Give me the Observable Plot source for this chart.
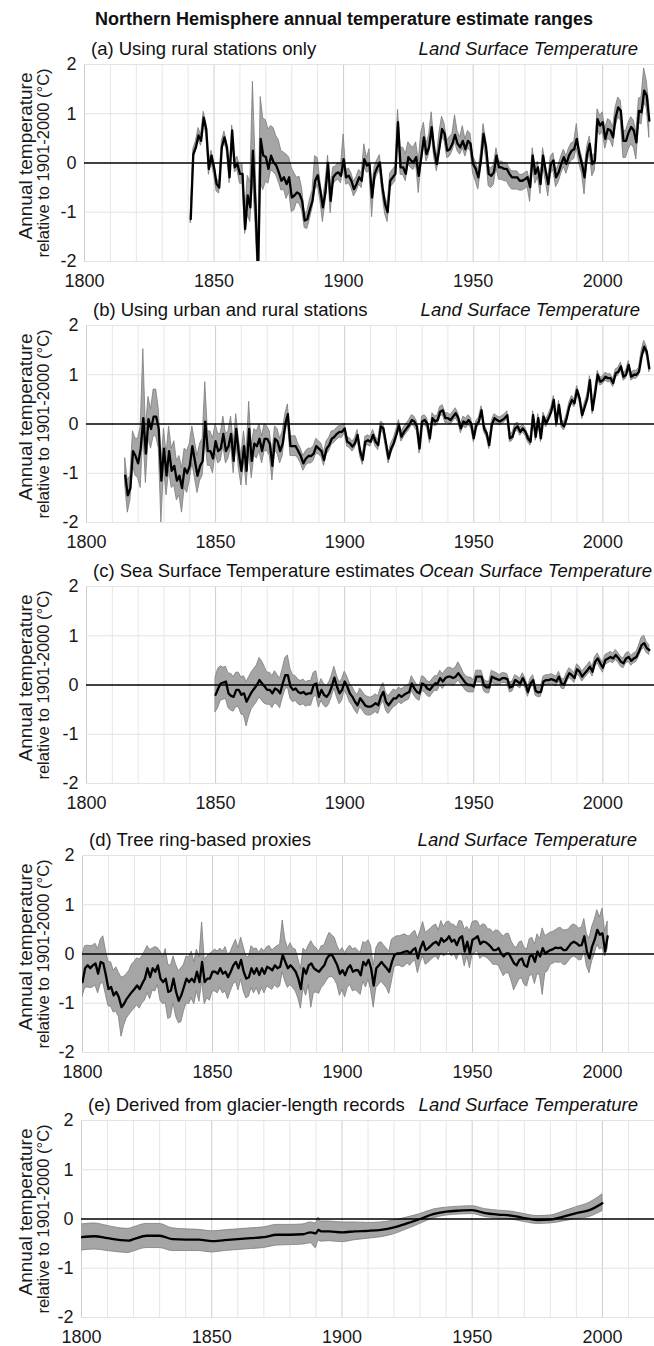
<!DOCTYPE html>
<html><head><meta charset="utf-8">
<script src="https://cdn.jsdelivr.net/npm/d3@7"></script>
<script src="https://cdn.jsdelivr.net/npm/@observablehq/plot@0.6"></script>
<style>
html,body{margin:0;padding:0;background:#fff;}
#page{position:relative;width:654px;height:1346px;overflow:hidden;font-family:"Liberation Sans",Arial,sans-serif;color:#111;}
.t{position:absolute;white-space:nowrap;line-height:1;}
.main{font-weight:bold;font-size:18px;}
.pl{font-size:18.5px;}
.pr{font-size:18.5px;font-style:italic;}
.panel{position:absolute;left:0;}
</style></head><body><div id="page"></div>
<script>
// ---- axis tick values ----
const xTicks = [1800, 1850, 1900, 1950, 2000];
const xMinor = [1810,1820,1830,1840,1860,1870,1880,1890,1910,1920,1930,1940,1960,1970,1980,1990,2010,2020];
const yTicks = [-2, -1, 0, 1, 2];
const yGrid = [-2, -1, 1, 2];
const yLab1 = "Annual temperature";
const yLab2 = "relative to 1901-2000 (°C)";
const mainTitle = "Northern Hemisphere annual temperature estimate ranges";

// ---- (a) rural stations, 1841-2018 ----
const aStart = 1841;
const aMid = [
-1.14,0.18,0.32,0.56,0.45,0.92,0.69,-0.12,0.15,
-0.09,-0.43,-0.50,0.32,0.52,0.32,-0.29,0.66,-0.09,-0.02,
-0.22,-0.22,-1.34,-0.66,-0.90,0.25,-0.85,-2.30,0.49,0.15,
0.12,-0.12,0.15,0.01,-0.05,-0.19,-0.36,-0.29,-0.43,-0.29,
-0.70,-0.66,-0.60,-0.63,-0.77,-1.17,-1.14,-0.94,-0.77,-0.36,
-0.25,-0.55,-0.90,-0.60,0.00,-0.77,-0.29,-0.22,-0.19,-0.26,
0.08,-0.29,-0.26,-0.36,-0.53,-0.43,-0.29,-0.36,0.08,-0.05,
-0.02,-0.70,-0.22,-0.09,0.01,-0.49,-0.83,-1.00,-0.36,-0.29,
-0.22,0.83,-0.09,-0.09,-0.22,0.12,0.05,0.01,0.12,-0.26,
0.12,0.52,0.18,0.32,0.73,0.25,-0.02,0.32,0.69,0.59,
0.25,0.28,0.39,0.57,0.39,0.32,0.45,0.28,0.45,0.39,
-0.02,-0.12,-0.29,0.05,0.59,0.32,-0.22,-0.26,-0.19,0.15,
-0.09,-0.09,-0.12,-0.12,-0.22,-0.29,-0.29,-0.29,-0.36,-0.36,
-0.33,-0.29,-0.49,0.15,-0.22,-0.09,-0.43,0.15,-0.16,-0.43,
-0.02,0.05,-0.29,-0.19,-0.02,0.12,-0.02,0.15,0.25,0.28,
0.49,0.18,-0.02,-0.29,0.18,0.39,-0.02,0.05,0.89,0.76,
0.83,0.49,0.69,0.66,0.52,0.93,1.13,1.06,0.45,0.45,
0.62,0.73,0.66,0.42,1.06,1.03,1.47,1.37,0.86];
const aUp = [
.08,.10,.12,.15,.12,.12,.12,.10,.10,
.12,.12,.10,.12,.12,.10,.12,.10,.12,.15,
.15,.20,.30,.40,.50,1.40,.90,.50,.85,.75,
.75,.80,.60,.70,.60,.65,.60,.50,.60,.40,
.60,.45,.30,.35,.25,.15,.15,.20,.20,.50,
.35,.20,.15,.20,.15,.20,.20,.15,.20,.20,
.50,.15,.15,.15,.15,.15,.15,.15,.30,.15,
.30,.15,.15,.15,.15,.15,.15,.15,.15,.15,
.15,.25,.40,.40,.40,.30,.30,.30,.30,.30,
.50,.30,.20,.25,.30,.20,.15,.30,.25,.20,
.20,.25,.20,.40,.25,.20,.30,.20,.20,.20,
.15,.15,.15,.15,.20,.15,.15,.15,.15,.15,
.12,.12,.12,.12,.12,.12,.12,.12,.12,.12,
.12,.12,.12,.15,.12,.12,.12,.15,.12,.12,
.15,.15,.12,.15,.15,.15,.15,.15,.15,.15,
.30,.15,.15,.15,.15,.15,.15,.15,.20,.20,
.20,.20,.20,.20,.20,.20,.20,.20,.20,.20,
.20,.20,.20,.20,.25,.30,.45,.30,.30];
const aDn = [
.08,.10,.08,.10,.10,.10,.12,.12,.15,
.15,.15,.12,.10,.10,.10,.12,.10,.10,.12,
.20,.20,.10,.40,.30,.60,.40,.10,.90,.70,
.50,.30,.30,.20,.20,.20,.20,.25,.30,.30,
.30,.30,.20,.20,.20,.15,.20,.20,.15,.20,
.20,.20,.30,.20,.20,.25,.15,.15,.15,.15,
.15,.15,.15,.15,.15,.15,.15,.15,.15,.15,
.15,.40,.15,.15,.15,.15,.20,.20,.15,.15,
.15,.15,.15,.15,.15,.15,.15,.15,.15,.35,
.15,.15,.15,.15,.15,.15,.15,.15,.15,.15,
.15,.15,.15,.15,.15,.15,.15,.15,.15,.15,
.20,.25,.25,.20,.20,.20,.25,.25,.25,.25,
.25,.25,.25,.25,.25,.25,.25,.25,.20,.20,
.20,.20,.30,.20,.20,.20,.20,.20,.20,.25,
.20,.20,.20,.20,.20,.20,.20,.20,.20,.20,
.20,.20,.20,.35,.20,.20,.25,.20,.20,.20,
.20,.20,.20,.20,.20,.20,.20,.20,.35,.35,
.35,.35,.35,.35,.25,.25,.25,.25,.35];

// ---- (b) urban and rural stations, 1815-2018 ----
const bStart = 1815;
const bMid = [
-1.05,-1.45,-1.30,-0.55,-0.65,
-0.80,-0.50,0.12,-0.60,0.10,-0.10,0.15,0.15,-0.10,-1.15,
-0.50,-1.05,-0.55,-0.95,-0.85,-1.15,-1.05,-1.30,-0.90,-1.00,
-0.85,-0.45,-0.75,-1.05,-0.85,-0.75,0.05,-0.55,-0.55,-0.70,
-0.35,-0.55,-0.50,-0.20,-0.55,-0.45,-0.20,-0.75,-0.10,-0.60,
-0.95,-0.45,-0.95,-0.10,-0.75,-0.40,-0.45,-0.30,-0.55,-0.30,
-0.30,-0.40,-0.85,-0.30,-0.35,-0.55,-0.40,0.00,0.20,-0.45,
-0.45,-0.45,-0.55,-0.65,-0.80,-0.70,-0.65,-0.65,-0.60,-0.45,
-0.50,-0.55,-0.73,-0.50,-0.43,-0.30,-0.26,-0.20,-0.16,-0.16,
-0.09,-0.36,-0.39,-0.46,-0.39,-0.22,-0.56,-0.73,-0.36,-0.33,
-0.36,-0.22,-0.36,-0.43,-0.05,-0.09,-0.39,-0.70,-0.50,-0.39,
-0.22,-0.02,-0.26,-0.16,-0.09,-0.02,0.08,0.05,-0.05,-0.50,
0.05,0.08,0.01,-0.29,0.12,0.05,0.08,0.25,0.28,0.12,
0.12,0.08,0.15,0.22,0.12,-0.09,0.05,0.01,0.08,0.01,
-0.29,-0.02,0.05,0.28,-0.09,-0.19,-0.43,-0.02,0.12,0.08,
0.05,0.08,0.12,0.18,-0.29,-0.26,-0.09,-0.05,-0.16,-0.09,
-0.16,-0.29,-0.36,0.18,-0.26,0.12,-0.29,0.15,0.01,0.12,
0.25,0.49,0.01,0.39,0.01,-0.05,0.12,0.35,0.49,0.42,
0.69,0.52,0.18,0.35,0.52,0.89,0.28,0.62,1.00,0.86,
0.89,0.96,0.93,0.93,0.83,1.03,1.06,1.17,0.96,1.00,
1.20,0.96,1.00,1.00,1.06,1.37,1.57,1.47,1.13];
const bUp = [
.35,.30,.25,.40,.35,
.50,.45,1.40,.50,.45,.40,.55,.55,.40,.30,
.40,.45,.50,.45,.50,.40,.40,.40,.40,.45,
.45,.40,.40,.40,.45,.45,.80,.40,.40,.40,
.35,.35,.30,.35,.35,.30,.35,.35,.30,.30,
.30,.30,.35,.55,.30,.30,.30,.30,.30,.30,
.25,.25,.25,.25,.25,.25,.25,.20,.20,.20,
.20,.20,.15,.15,.15,.15,.15,.15,.15,.15,
.15,.15,.15,.15,.15,.15,.12,.12,.12,.12,
.10,.10,.10,.10,.10,.10,.10,.10,.10,.10,
.10,.10,.10,.10,.10,.10,.10,.10,.10,.10,
.10,.10,.10,.10,.10,.10,.10,.10,.10,.10,
.10,.10,.10,.10,.10,.10,.10,.10,.10,.10,
.10,.10,.10,.10,.10,.10,.10,.10,.10,.10,
.08,.08,.08,.08,.08,.08,.08,.08,.08,.08,
.08,.08,.08,.08,.08,.08,.08,.08,.08,.08,
.08,.08,.08,.08,.08,.08,.08,.08,.08,.08,
.08,.08,.08,.08,.08,.08,.08,.08,.08,.08,
.08,.08,.08,.08,.08,.08,.08,.08,.08,.08,
.08,.08,.08,.08,.08,.08,.08,.08,.08,.08,
.08,.08,.08,.08,.08,.12,.12,.10,.10];
const bDn = [
.20,.35,.25,.30,.40,
.30,.80,.30,.60,.40,.40,.40,.40,.40,.85,
.40,.40,.40,.35,.40,.40,.40,.50,.40,.40,
.30,.35,.35,.35,.30,.30,.35,.30,.30,.30,
.25,.25,.25,.25,.25,.25,.25,.25,.25,.30,
.30,.30,.30,.45,.35,.25,.25,.25,.25,.25,
.25,.25,.30,.25,.25,.25,.25,.20,.15,.20,
.20,.20,.15,.15,.15,.15,.15,.15,.15,.15,
.12,.12,.12,.12,.12,.12,.12,.12,.12,.12,
.10,.10,.10,.10,.10,.10,.10,.10,.10,.10,
.10,.10,.10,.10,.10,.10,.10,.10,.10,.10,
.10,.10,.10,.10,.10,.10,.10,.10,.10,.10,
.10,.10,.10,.10,.10,.10,.10,.10,.10,.10,
.10,.10,.10,.10,.10,.10,.10,.10,.10,.10,
.08,.08,.08,.08,.08,.08,.08,.08,.08,.08,
.08,.08,.08,.08,.08,.08,.08,.08,.08,.08,
.08,.08,.08,.08,.08,.08,.08,.08,.08,.08,
.08,.08,.08,.08,.08,.08,.08,.08,.08,.08,
.08,.08,.08,.08,.08,.08,.08,.08,.08,.08,
.08,.08,.08,.08,.08,.08,.08,.08,.08,.08,
.08,.08,.08,.08,.08,.08,.08,.08,.08];

// ---- (c) sea surface temperature, 1850-2018 ----
const cStart = 1850;
const cMid = [
-0.20,-0.07,0.03,0.05,0.07,-0.17,-0.22,-0.24,-0.10,-0.10,
-0.20,-0.17,-0.34,-0.24,-0.14,-0.07,0.00,0.10,0.03,-0.03,
-0.10,-0.10,-0.17,-0.07,-0.10,-0.17,0.03,0.20,0.20,-0.03,
-0.10,-0.07,-0.14,-0.17,-0.14,-0.19,-0.17,-0.17,0.00,0.03,
-0.24,-0.10,-0.20,-0.24,-0.17,-0.03,0.15,-0.03,-0.17,-0.10,
0.07,-0.03,-0.17,-0.24,-0.34,-0.41,-0.27,-0.34,-0.42,-0.44,
-0.44,-0.41,-0.37,-0.41,-0.24,-0.14,-0.34,-0.41,-0.34,-0.27,
-0.27,-0.20,-0.24,-0.20,-0.17,-0.14,0.03,-0.07,-0.14,-0.17,
0.03,0.00,-0.07,-0.10,-0.03,0.03,0.03,0.14,0.07,0.14,
0.17,0.17,0.14,0.17,0.24,0.17,0.10,0.03,0.00,0.00,
-0.03,0.17,0.17,0.17,-0.01,-0.05,-0.05,0.17,0.14,0.12,
0.10,0.14,0.14,0.12,-0.05,-0.03,0.10,0.07,0.03,0.14,
0.03,-0.14,0.03,0.10,-0.12,-0.15,-0.14,0.07,0.10,0.10,
0.12,0.10,0.07,0.17,0.03,0.01,0.14,0.24,0.20,0.14,
0.32,0.27,0.17,0.24,0.30,0.37,0.27,0.47,0.54,0.44,
0.35,0.51,0.54,0.57,0.54,0.61,0.55,0.47,0.44,0.54,
0.57,0.49,0.54,0.57,0.68,0.81,0.85,0.75,0.71];
const cUp = [
.35,.40,.35,.30,.30,.40,.45,.40,.35,.35,
.35,.35,.40,.40,.40,.40,.40,.45,.45,.40,
.35,.35,.35,.35,.30,.30,.30,.35,.40,.35,
.30,.25,.25,.25,.25,.25,.25,.25,.25,.25,
.22,.22,.22,.22,.22,.22,.22,.22,.22,.22,
.20,.20,.20,.20,.20,.20,.20,.20,.20,.20,
.18,.18,.18,.18,.18,.18,.18,.18,.18,.18,
.15,.15,.15,.15,.15,.15,.15,.15,.15,.15,
.15,.15,.15,.15,.15,.15,.15,.15,.15,.15,
.18,.18,.18,.18,.22,.20,.15,.15,.15,.15,
.12,.12,.12,.12,.12,.12,.12,.12,.12,.12,
.10,.10,.10,.10,.10,.10,.10,.10,.10,.10,
.10,.10,.10,.10,.10,.10,.10,.10,.10,.10,
.10,.10,.10,.10,.10,.10,.10,.10,.10,.10,
.10,.10,.10,.10,.10,.10,.10,.10,.10,.10,
.10,.10,.10,.10,.10,.10,.10,.10,.10,.10,
.10,.10,.10,.10,.12,.15,.15,.12,.10];
const cDn = [
.35,.40,.35,.35,.35,.30,.30,.30,.35,.35,
.40,.45,.50,.40,.35,.35,.35,.35,.35,.35,
.30,.30,.30,.30,.30,.30,.30,.30,.25,.25,
.25,.25,.25,.25,.25,.25,.25,.25,.25,.25,
.22,.22,.22,.22,.22,.22,.22,.22,.22,.22,
.18,.18,.18,.18,.18,.18,.18,.18,.18,.18,
.18,.18,.18,.18,.18,.18,.18,.18,.18,.18,
.15,.15,.15,.15,.15,.15,.15,.15,.15,.15,
.15,.15,.15,.15,.15,.15,.15,.15,.15,.15,
.15,.15,.15,.15,.15,.15,.15,.15,.15,.15,
.12,.12,.12,.12,.12,.12,.12,.12,.12,.12,
.10,.10,.10,.10,.10,.10,.10,.10,.10,.10,
.10,.10,.10,.10,.10,.10,.10,.10,.10,.10,
.10,.10,.10,.10,.10,.10,.10,.10,.10,.10,
.10,.10,.10,.10,.10,.10,.10,.10,.10,.10,
.10,.10,.10,.10,.10,.10,.10,.10,.10,.10,
.10,.10,.10,.10,.10,.10,.10,.10,.10];

// ---- (d) tree-ring proxies, 1800-2002 ----
const dStart = 1800;
const dMid = [
-0.57,-0.29,-0.23,-0.29,-0.23,-0.19,-0.40,-0.16,-0.19,-0.43,
-0.71,-0.67,-0.84,-0.77,-0.88,-1.08,-1.01,-0.91,-0.84,-0.77,
-0.71,-0.64,-0.71,-0.60,-0.50,-0.29,-0.47,-0.29,-0.36,-0.23,
-0.50,-0.57,-0.50,-0.77,-0.74,-0.50,-0.77,-0.95,-0.84,-0.67,
-0.50,-0.57,-0.50,-0.57,-0.36,-0.57,-0.16,-0.57,-0.50,-0.50,
-0.36,-0.36,-0.40,-0.29,-0.40,-0.36,-0.47,-0.36,-0.23,-0.16,
-0.29,-0.12,-0.36,-0.50,-0.47,-0.29,-0.40,-0.29,-0.43,-0.29,
-0.40,-0.26,-0.29,-0.33,-0.23,-0.29,-0.26,-0.02,-0.16,-0.29,
-0.23,-0.29,-0.36,-0.50,-0.71,-0.29,-0.40,-0.23,-0.19,-0.29,
-0.33,-0.36,-0.29,-0.23,-0.09,-0.02,-0.02,-0.12,-0.23,-0.40,
-0.33,-0.43,-0.29,-0.23,-0.36,-0.33,-0.33,-0.43,-0.16,-0.23,
-0.12,-0.29,-0.64,-0.29,-0.23,-0.16,-0.23,-0.29,-0.36,-0.16,
-0.02,0.01,0.01,0.03,0.05,0.06,0.01,0.08,0.12,-0.09,
0.12,0.25,0.08,0.12,0.17,0.22,0.25,0.18,0.32,0.25,
0.29,0.36,0.25,0.29,0.18,0.32,0.36,0.05,0.25,0.01,
0.29,0.32,0.36,0.20,0.25,0.24,0.20,0.15,0.08,0.08,
0.12,0.01,-0.05,0.01,0.01,-0.09,-0.19,-0.23,-0.12,-0.09,
-0.23,-0.26,-0.05,-0.02,-0.16,0.05,-0.05,0.12,0.01,0.05,
0.08,0.10,0.13,0.12,0.13,0.08,0.08,0.15,0.22,0.25,
0.22,0.17,0.18,0.36,0.05,-0.09,0.15,0.29,0.49,0.39,
0.42,0.05,0.36];
const dUp = [
.55,.45,.40,.45,.40,.40,.50,.45,.55,.50,
.55,.50,.50,.50,.50,.60,.55,.50,.50,.55,
.55,.55,.60,.55,.55,.45,.55,.40,.50,.35,
.55,.50,.60,.55,.50,.45,.55,.60,.55,.45,
.45,.50,.55,.40,.45,.50,.80,.45,.45,.50,
.40,.45,.45,.40,.45,.50,.45,.40,.40,.45,
.40,.45,.50,.45,.40,.45,.50,.40,.45,.40,
.45,.40,.45,.40,.35,.45,.45,.70,.45,.40,
.45,.40,.45,.40,.40,.40,.45,.40,.45,.45,
.45,.40,.45,.40,.40,.45,.40,.45,.40,.45,
.45,.45,.40,.40,.45,.45,.40,.45,.40,.45,
.40,.45,.40,.40,.45,.40,.40,.40,.40,.45,
.35,.35,.35,.35,.35,.30,.35,.35,.35,.40,
.35,.40,.35,.35,.35,.35,.35,.30,.35,.30,
.35,.30,.35,.30,.35,.35,.30,.45,.30,.45,
.35,.35,.30,.35,.35,.35,.30,.35,.35,.40,
.35,.40,.40,.40,.40,.35,.35,.35,.35,.35,
.35,.35,.35,.35,.35,.35,.35,.40,.35,.35,
.35,.35,.35,.40,.40,.40,.40,.35,.35,.35,
.35,.35,.35,.35,.35,.40,.40,.40,.40,.35,
.50,.40,.30];
const dDn = [
.30,.40,.45,.40,.45,.45,.40,.45,.40,.40,
.35,.40,.35,.40,.40,.60,.45,.40,.40,.40,
.40,.40,.40,.40,.45,.50,.45,.45,.40,.40,
.45,.45,.50,.55,.55,.50,.50,.45,.55,.50,
.50,.45,.40,.45,.40,.40,.40,.45,.40,.45,
.40,.40,.40,.40,.40,.40,.45,.40,.40,.40,
.45,.40,.40,.40,.40,.40,.40,.40,.40,.40,
.40,.40,.40,.40,.40,.40,.40,.35,.40,.40,
.40,.40,.40,.40,.40,.40,.45,.40,.90,.50,
.45,.45,.40,.40,.45,.45,.45,.40,.40,.45,
.40,.45,.40,.40,.40,.40,.45,.40,.40,.45,
.40,.45,.45,.40,.40,.40,.40,.40,.45,.40,
.25,.25,.25,.30,.30,.25,.25,.25,.25,.30,
.30,.30,.30,.30,.30,.30,.30,.30,.30,.30,
.30,.30,.30,.30,.30,.30,.35,.30,.30,.30,
.30,.30,.30,.30,.30,.30,.30,.30,.30,.30,
.35,.35,.40,.40,.40,.45,.55,.40,.40,.40,
.40,.40,.40,.40,.45,.45,.40,.95,.40,.40,
.30,.30,.30,.30,.30,.30,.30,.30,.30,.30,
.30,.30,.30,.30,.30,.30,.30,.30,.30,.30,
.30,.10,.25];

// ---- (e) glacier-length records ----
const eYears = [1800,1805,1810,1815,1818,1820,1825,1830,1835,1840,1845,1850,1855,1860,1865,1870,1875,1880,1885,1888,1890,1891,1892,1895,1900,1905,1910,1915,1920,1925,1930,1935,1940,1945,1950,1955,1960,1965,1970,1975,1980,1985,1990,1995,2000];
const eMid = [-0.37,-0.35,-0.39,-0.43,-0.44,-0.41,-0.34,-0.34,-0.41,-0.42,-0.42,-0.45,-0.43,-0.41,-0.39,-0.37,-0.32,-0.32,-0.31,-0.27,-0.29,-0.22,-0.25,-0.25,-0.27,-0.25,-0.24,-0.22,-0.17,-0.09,0.0,0.10,0.15,0.17,0.18,0.12,0.09,0.07,0.02,-0.02,-0.01,0.05,0.12,0.18,0.32];
const eUp = [.26,.26,.25,.24,.24,.24,.24,.24,.22,.21,.20,.20,.20,.20,.20,.20,.20,.20,.20,.20,.20,.25,.20,.20,.20,.18,.16,.15,.14,.12,.10,.09,.08,.08,.08,.08,.08,.08,.08,.08,.08,.10,.12,.15,.18];
const eDn = [.27,.27,.26,.25,.25,.25,.25,.25,.24,.23,.23,.23,.22,.22,.22,.22,.22,.21,.21,.22,.30,.22,.21,.20,.20,.18,.16,.15,.14,.12,.10,.09,.08,.08,.08,.08,.08,.08,.08,.08,.08,.10,.12,.14,.16];

// ---- build tables ----
function rowsFrom(start, mid, up, dn) {
  return mid.map((v, i) => ({year: start + i, mid: v, lo: v - dn[i], hi: v + up[i]}));
}
const eRows = eYears.map((yr, i) => ({year: yr, mid: eMid[i], lo: eMid[i] - eDn[i], hi: eMid[i] + eUp[i]}));

const panels = [
  {top: 64,   left: 84, rows: rowsFrom(aStart, aMid, aUp, aDn), title: "(a) Using rural stations only", right: "Land Surface Temperature", rEdge: 638, curve: "linear"},
  {top: 325,  left: 86, rows: rowsFrom(bStart, bMid, bUp, bDn), title: "(b) Using urban and rural stations", right: "Land Surface Temperature", rEdge: 640, curve: "linear"},
  {top: 586,  left: 86, rows: rowsFrom(cStart, cMid, cUp, cDn), title: "(c) Sea Surface Temperature estimates", right: "Ocean Surface Temperature", rEdge: 652, curve: "linear"},
  {top: 855,  left: 82, rows: rowsFrom(dStart, dMid, dUp, dDn), title: "(d) Tree ring-based proxies", right: "Land Surface Temperature", rEdge: 637, curve: "linear"},
  {top: 1120, left: 81, rows: eRows, title: "(e) Derived from glacier-length records", right: "Land Surface Temperature", rEdge: 638, curve: "monotone-x"}
];

const FONT = '"Liberation Sans", Arial, sans-serif';
const page = document.getElementById("page");
const FRAME_H = 197, MT = 6, MB = 30;

function addText(cls, txt, css) {
  const d = document.createElement("div");
  d.className = "t " + cls;
  d.textContent = txt;
  Object.assign(d.style, css);
  page.appendChild(d);
}
// main title: baseline ~25, centred ~344
addText("main", mainTitle, {top: (25 - 0.8465 * 18) + "px", left: "344px", transform: "translateX(-50%)"});

for (const p of panels) {
  const L = p.left;
  const chart = Plot.plot({
    width: 654,
    height: FRAME_H + MT + MB,
    marginLeft: L, marginRight: 0, marginTop: MT, marginBottom: MB,
    style: {fontFamily: FONT, fontSize: "18px", color: "#1a1a1a", background: "transparent", overflow: "visible"},
    x: {domain: [1800, 2020], ticks: xTicks, tickFormat: d => String(d), tickSize: 0, tickPadding: 13, label: null},
    y: {domain: [-2, 2], ticks: yTicks, tickFormat: d => String(d), tickSize: 0, tickPadding: 8, label: null},
    marks: [
      Plot.ruleX(xMinor, {stroke: "#e6e6e6", strokeWidth: 1}),
      Plot.ruleX(xTicks, {stroke: "#cdcdcd", strokeWidth: 1}),
      Plot.ruleY(yGrid, {stroke: "#e2e2e2", strokeWidth: 1}),
      Plot.areaY(p.rows, {x: "year", y1: "lo", y2: "hi", curve: p.curve, fill: "#a5a5a5", stroke: "#7c7c7c", strokeWidth: 0.8, clip: true}),
      Plot.ruleY([0], {stroke: "#000", strokeWidth: 1.4}),
      Plot.lineY(p.rows, {x: "year", y: "mid", curve: p.curve, stroke: "#000", strokeWidth: 2.3, clip: true}),
      Plot.text([yLab1], {text: d => d, frameAnchor: "left", textAnchor: "middle", lineAnchor: "middle", rotate: -90, dx: 25.5 - L, dy: -7, fontSize: 19, fill: "#1a1a1a"}),
      Plot.text([yLab2], {text: d => d, frameAnchor: "left", textAnchor: "middle", lineAnchor: "middle", rotate: -90, dx: 43.5 - L, dy: 0, fontSize: 16.5, fill: "#1a1a1a"})
    ]
  });
  const wrap = document.createElement("div");
  wrap.className = "panel";
  wrap.style.top = (p.top - MT) + "px";
  wrap.appendChild(chart);
  page.appendChild(wrap);
  const base = p.top - 8;
  addText("pl", p.title, {top: (base - 0.8465 * 18.5) + "px", left: (L + 7) + "px"});
  addText("pr", p.right, {top: (base - 0.8465 * 18.5) + "px", right: (654 - p.rEdge) + "px"});
}
</script></body></html>
